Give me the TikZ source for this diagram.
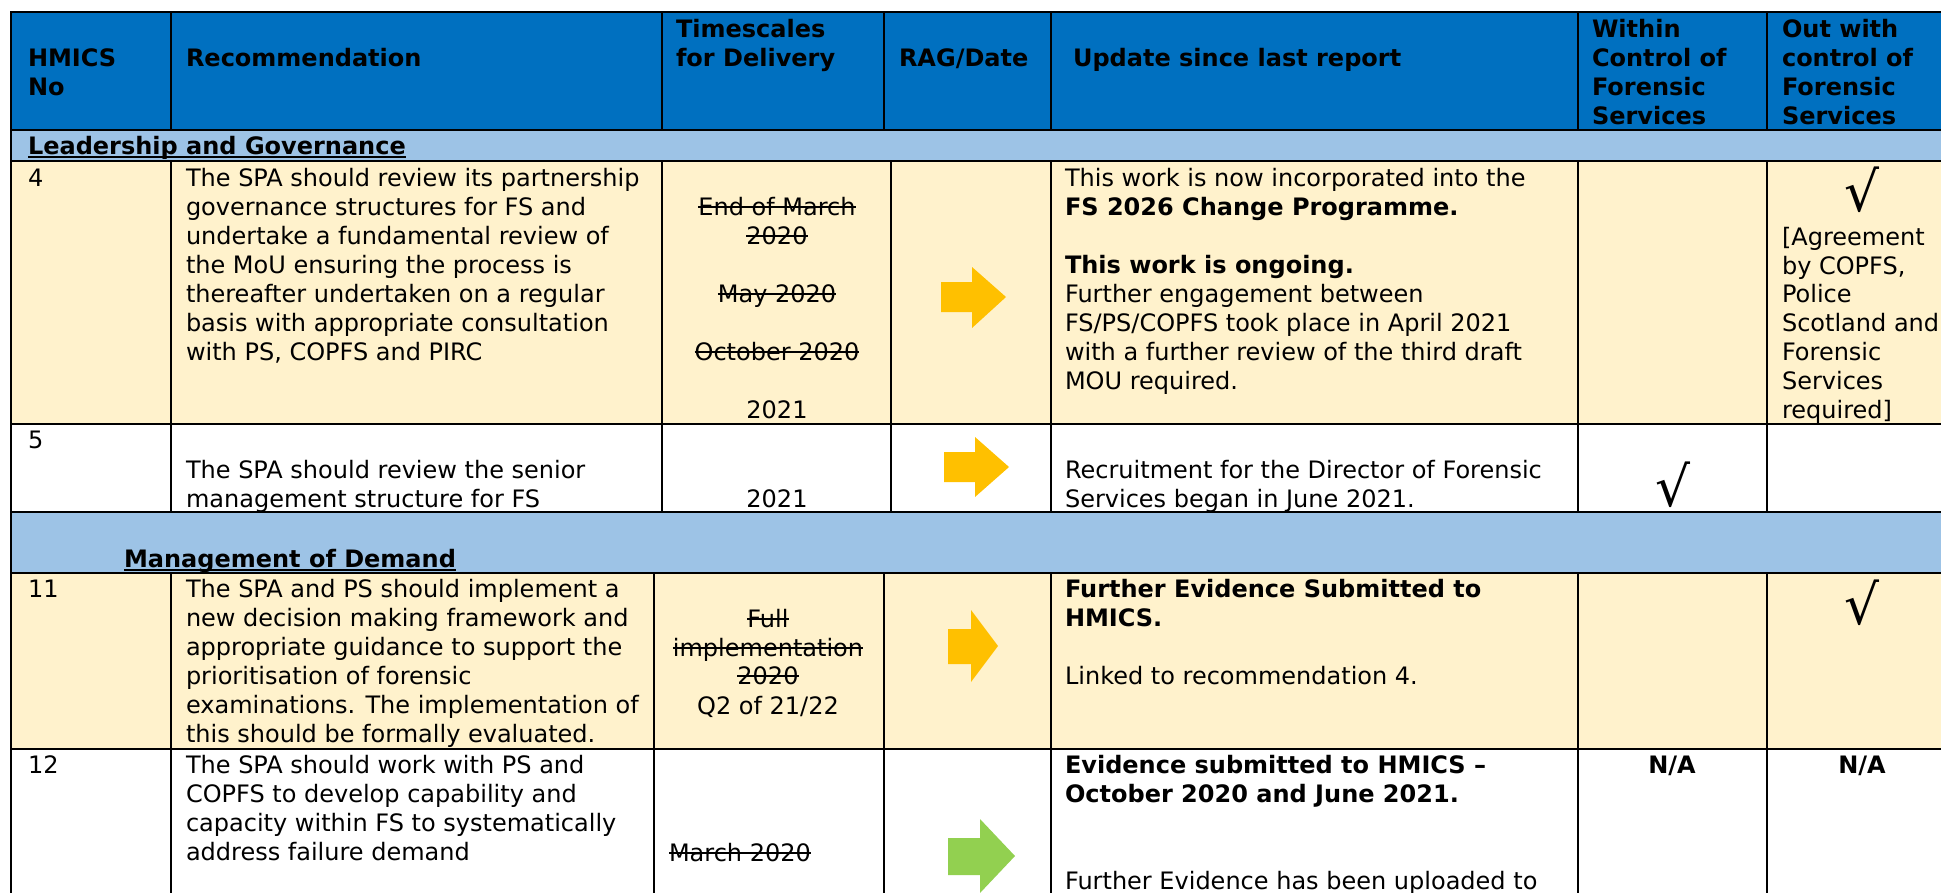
\documentclass[tikz,border=0pt]{standalone}
\usepackage{fontspec}
\setmainfont{DejaVu Sans}

\begin{document}
\begin{tikzpicture}[x=1pt,y=-1pt,line cap=rect,
		txt/.style={inner sep=0, outer sep=0, custcol_0_0_0, anchor=base west, font=\fontsize{24pt}{29pt}\selectfont},
		txtb/.style={txt, font=\fontsize{24pt}{29pt}\selectfont\bfseries},
		txtc/.style={txt, anchor=base},
		txtbc/.style={txtb, anchor=base},
		tickmark/.style={inner sep=0, outer sep=0, custcol_0_0_0, anchor=north, font=\fontsize{55pt}{55pt}\selectfont},
		rule/.style={line width=2.0pt, custcol_0_0_0},
		strikeline/.style={line width=1.5pt, line cap=butt, custcol_0_0_0},
		underline/.style={line width=2.4pt, line cap=butt, custcol_0_0_0}]
				\definecolor{custcol_0_0_0}{RGB}{0, 0, 0}
				\definecolor{custcol_0_70_c0}{RGB}{0, 112, 192}
				\definecolor{custcol_9d_c3_e6}{RGB}{157, 195, 230}
				\definecolor{custcol_ff_f2_cc}{RGB}{255, 242, 204}
				\definecolor{custcol_ff_c0_0}{RGB}{255, 192, 0}
				\definecolor{custcol_92_d0_50}{RGB}{146, 208, 80}
				\useasboundingbox (0,0) rectangle (1941,892);
				\clip (0,0) rectangle (1941,892);
				% cell fills
				\fill [custcol_0_70_c0] (11,12) rectangle (1960,130);
				\fill [custcol_9d_c3_e6] (11,130) rectangle (1960,161);
				\fill [custcol_ff_f2_cc] (11,161) rectangle (1960,424);
				\fill [custcol_9d_c3_e6] (11,512) rectangle (1960,573);
				\fill [custcol_ff_f2_cc] (11,573) rectangle (1960,749);
				% grid
				\draw [rule] (11,12) -- (1960,12);
				\draw [rule] (11,130) -- (1960,130);
				\draw [rule] (11,161) -- (1960,161);
				\draw [rule] (11,424) -- (1960,424);
				\draw [rule] (11,512) -- (1960,512);
				\draw [rule] (11,573) -- (1960,573);
				\draw [rule] (11,749) -- (1960,749);
				\draw [rule] (11,12) -- (11,900);
				\draw [rule] (171,12) -- (171,130) (171,161) -- (171,512) (171,573) -- (171,900);
				\draw [rule] (662,12) -- (662,130) (662,161) -- (662,512) (654,573) -- (654,900);
				\draw [rule] (884,12) -- (884,130) (891,161) -- (891,512) (884,573) -- (884,900);
				\draw [rule] (1051,12) -- (1051,130) (1051,161) -- (1051,512) (1051,573) -- (1051,900);
				\draw [rule] (1578,12) -- (1578,130) (1578,161) -- (1578,512) (1578,573) -- (1578,900);
				\draw [rule] (1767,12) -- (1767,130) (1767,161) -- (1767,512) (1767,573) -- (1767,900);
				% RAG arrows
				\fill [custcol_ff_c0_0] (941,282) -- (972,282) -- (972,267) -- (1006,297) -- (972,328) -- (972,312) -- (941,312) -- cycle;
				\fill [custcol_ff_c0_0] (944,452) -- (975,452) -- (975,437) -- (1009,467) -- (975,497) -- (975,482) -- (944,482) -- cycle;
				\fill [custcol_ff_c0_0] (948,629) -- (971,629) -- (971,610) -- (998,646) -- (971,682) -- (971,664) -- (948,664) -- cycle;
				\fill [custcol_92_d0_50] (948,838) -- (980,838) -- (980,819) -- (1015,856) -- (980,893) -- (980,875) -- (948,875) -- cycle;
				% header
				\node (hNoA) [txtb] at (28,66.7) {HMICS};
				\node (hNoB) [txtb] at (28,95.7) {No};
				\node (hRec) [txtb] at (186,66.7) {Recommendation};
				\node (hTimeA) [txtb] at (676,37.3) {Timescales};
				\node (hTimeB) [txtb] at (676,66.3) {for Delivery};
				\node (hRag) [txtb] at (899,66.3) {RAG/Date};
				\node (hUpd) [txtb] at (1073,66.3) {Update since last report};
				\node (hInA) [txtb] at (1592,37.3) {Within};
				\node (hInB) [txtb] at (1592,66.3) {Control of};
				\node (hInC) [txtb] at (1592,95.3) {Forensic};
				\node (hInD) [txtb] at (1592,124.3) {Services};
				\node (hOutA) [txtb] at (1782,37.3) {Out with};
				\node (hOutB) [txtb] at (1782,66.3) {control of};
				\node (hOutC) [txtb] at (1782,95.3) {Forensic};
				\node (hOutD) [txtb] at (1782,124.3) {Services};
				% sections
				\node (secLead) [txtb] at (28,154) {Leadership and Governance};
				\node (secDem) [txtb] at (124,567) {Management of Demand};
				\draw [underline] ([yshift=-3pt]secLead.base west) -- ([yshift=-3pt]secLead.base east);
				\draw [underline] ([yshift=-3pt]secDem.base west) -- ([yshift=-3pt]secDem.base east);
				% row 4
				\node (rFourNo) [txt] at (28,186) {4};
				\node (rFourRecA) [txt] at (186,186) {The SPA should review its partnership};
				\node (rFourRecB) [txt] at (186,215) {governance structures for FS and};
				\node (rFourRecC) [txt] at (186,244) {undertake a fundamental review of};
				\node (rFourRecD) [txt] at (186,273) {the MoU ensuring the process is};
				\node (rFourRecE) [txt] at (186,302) {thereafter undertaken on a regular};
				\node (rFourRecF) [txt] at (186,331) {basis with appropriate consultation};
				\node (rFourRecG) [txt] at (186,360) {with PS, COPFS and PIRC};
				\node (rFourTimeA) [txtc] at (777,215) {End of March};
				\node (rFourTimeB) [txtc] at (777,244) {2020};
				\node (rFourTimeC) [txtc] at (777,302) {May 2020};
				\node (rFourTimeD) [txtc] at (777,360) {October 2020};
				\node (rFourTimeE) [txtc] at (777,418) {2021};
				\draw [strikeline] ([yshift=8pt]rFourTimeA.base west) -- ([yshift=8pt]rFourTimeA.base east);
				\draw [strikeline] ([yshift=8pt]rFourTimeB.base west) -- ([yshift=8pt]rFourTimeB.base east);
				\draw [strikeline] ([yshift=8pt]rFourTimeC.base west) -- ([yshift=8pt]rFourTimeC.base east);
				\draw [strikeline] ([yshift=8pt]rFourTimeD.base west) -- ([yshift=8pt]rFourTimeD.base east);
				\node (rFourUpdA) [txt] at (1065,186) {This work is now incorporated into the};
				\node (rFourUpdB) [txtb] at (1065,215) {FS 2026 Change Programme.};
				\node (rFourUpdC) [txtb] at (1065,273) {This work is ongoing.};
				\node (rFourUpdD) [txt] at (1065,302) {Further engagement between};
				\node (rFourUpdE) [txt] at (1065,331) {FS/PS/COPFS took place in April 2021};
				\node (rFourUpdF) [txt] at (1065,360) {with a further review of the third draft};
				\node (rFourUpdG) [txt] at (1065,389) {MOU required.};
				\node (rFourOutTick) [tickmark] at (1862,167) {√};
				\node (rFourOutA) [txt] at (1782,245) {[Agreement};
				\node (rFourOutB) [txt] at (1782,274) {by COPFS,};
				\node (rFourOutC) [txt] at (1782,302) {Police};
				\node (rFourOutD) [txt] at (1782,331) {Scotland and};
				\node (rFourOutE) [txt] at (1782,360) {Forensic};
				\node (rFourOutF) [txt] at (1782,389) {Services};
				\node (rFourOutG) [txt] at (1782,418) {required]};
				% row 5
				\node (rFiveNo) [txt] at (28,448) {5};
				\node (rFiveRecA) [txt] at (186,478) {The SPA should review the senior};
				\node (rFiveRecB) [txt] at (186,507) {management structure for FS};
				\node (rFiveTime) [txtc] at (777,507) {2021};
				\node (rFiveUpdA) [txt] at (1065,478) {Recruitment for the Director of Forensic};
				\node (rFiveUpdB) [txt] at (1065,507) {Services began in June 2021.};
				\node (rFiveInTick) [tickmark] at (1673,462) {√};
				% row 11
				\node (rElevenNo) [txt] at (28,597) {11};
				\node (rElevenRecA) [txt] at (186,597) {The SPA and PS should implement a};
				\node (rElevenRecB) [txt] at (186,626) {new decision making framework and};
				\node (rElevenRecC) [txt] at (186,655) {appropriate guidance to support the};
				\node (rElevenRecD) [txt] at (186,684) {prioritisation of forensic};
				\node (rElevenRecE) [txt] at (186,713) {examinations. The implementation of};
				\node (rElevenRecF) [txt] at (186,742) {this should be formally evaluated.};
				\node (rElevenTimeA) [txtc] at (768,627) {Full};
				\node (rElevenTimeB) [txtc] at (768,656) {implementation};
				\node (rElevenTimeC) [txtc] at (768,684) {2020};
				\node (rElevenTimeD) [txtc] at (768,714) {Q2 of 21/22};
				\draw [strikeline] ([yshift=8pt]rElevenTimeA.base west) -- ([yshift=8pt]rElevenTimeA.base east);
				\draw [strikeline] ([yshift=8pt]rElevenTimeB.base west) -- ([yshift=8pt]rElevenTimeB.base east);
				\draw [strikeline] ([yshift=8pt]rElevenTimeC.base west) -- ([yshift=8pt]rElevenTimeC.base east);
				\node (rElevenUpdA) [txtb] at (1065,597) {Further Evidence Submitted to};
				\node (rElevenUpdB) [txtb] at (1065,626) {HMICS.};
				\node (rElevenUpdC) [txt] at (1065,684) {Linked to recommendation 4.};
				\node (rElevenOutTick) [tickmark] at (1862,580) {√};
				% row 12
				\node (rTwelveNo) [txt] at (28,773) {12};
				\node (rTwelveRecA) [txt] at (186,773) {The SPA should work with PS and};
				\node (rTwelveRecB) [txt] at (186,802) {COPFS to develop capability and};
				\node (rTwelveRecC) [txt] at (186,831) {capacity within FS to systematically};
				\node (rTwelveRecD) [txt] at (186,860) {address failure demand};
				\node (rTwelveTime) [txt] at (669,861) {March 2020};
				\draw [strikeline] ([yshift=8pt]rTwelveTime.base west) -- ([yshift=8pt]rTwelveTime.base east);
				\node (rTwelveUpdA) [txtb] at (1065,773) {Evidence submitted to HMICS –};
				\node (rTwelveUpdB) [txtb] at (1065,802) {October 2020 and June 2021.};
				\node (rTwelveUpdC) [txt] at (1065,889) {Further Evidence has been uploaded to};
				\node (rTwelveIn) [txtbc] at (1672,773) {N/A};
				\node (rTwelveOut) [txtbc] at (1862,773) {N/A};
			\end{tikzpicture}
\end{document}
